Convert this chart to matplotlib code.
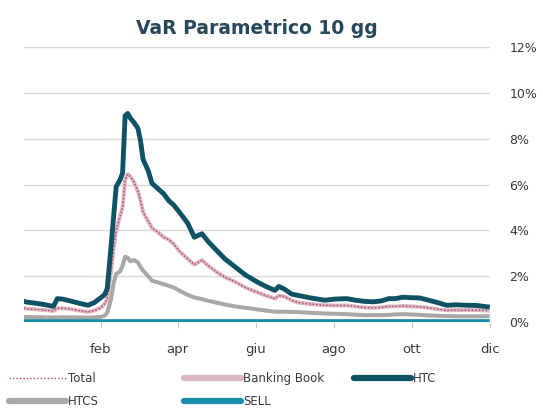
"""VaR parametrico 10 gg — recreated chart (out.png)."""
import matplotlib
matplotlib.use("Agg")
import matplotlib.pyplot as plt
import matplotlib.ticker as mticker
import pandas as pd
from matplotlib.lines import Line2D

# ---------------------------------------------------------------------------
# Data (values in %)
# ---------------------------------------------------------------------------

dates = [
    "2019-12-03", "2019-12-05", "2019-12-12", "2019-12-19", "2019-12-26",
    "2019-12-29", "2020-01-02", "2020-01-08", "2020-01-15", "2020-01-22",
    "2020-01-27", "2020-02-01", "2020-02-04", "2020-02-06", "2020-02-09",
    "2020-02-11", "2020-02-13", "2020-02-16", "2020-02-18", "2020-02-20",
    "2020-02-22", "2020-02-24", "2020-02-27", "2020-03-01", "2020-03-03",
    "2020-03-05", "2020-03-09", "2020-03-12", "2020-03-17", "2020-03-21",
    "2020-03-25", "2020-03-29", "2020-04-03", "2020-04-09", "2020-04-14",
    "2020-04-20", "2020-04-25", "2020-05-01", "2020-05-08", "2020-05-16",
    "2020-05-24", "2020-06-02", "2020-06-09", "2020-06-16", "2020-06-19",
    "2020-06-23", "2020-06-29", "2020-07-04", "2020-07-14", "2020-07-25",
    "2020-08-02", "2020-08-11", "2020-08-18", "2020-08-25", "2020-09-01",
    "2020-09-07", "2020-09-13", "2020-09-18", "2020-09-24", "2020-10-01",
    "2020-10-07", "2020-10-14", "2020-10-21", "2020-10-28", "2020-11-05",
    "2020-11-13", "2020-11-21", "2020-11-29",
]

htc = [
    0.90, 0.87, 0.82, 0.76, 0.68, 1.02, 1.00, 0.92, 0.82, 0.73,
    0.85, 1.06, 1.20, 1.45, 3.30, 4.60, 5.90, 6.20, 6.50, 9.00,
    9.10, 8.90, 8.70, 8.45, 7.90, 7.10, 6.60, 6.05, 5.80, 5.60,
    5.30, 5.10, 4.75, 4.30, 3.70, 3.85, 3.50, 3.15, 2.75, 2.40,
    2.05, 1.75, 1.55, 1.38, 1.55, 1.45, 1.22, 1.16, 1.05, 0.95,
    1.00, 1.02, 0.95, 0.90, 0.88, 0.92, 1.02, 1.02, 1.08, 1.06,
    1.05, 0.95, 0.85, 0.73, 0.75, 0.73, 0.72, 0.66,
]

total = [
    0.60, 0.58, 0.55, 0.52, 0.48, 0.60, 0.60, 0.57, 0.50, 0.44,
    0.50, 0.62, 0.80, 1.00, 2.20, 3.20, 4.00, 4.60, 5.00, 6.20,
    6.45, 6.35, 6.10, 5.70, 5.30, 4.80, 4.40, 4.10, 3.90, 3.70,
    3.60, 3.40, 3.05, 2.75, 2.50, 2.70, 2.45, 2.20, 1.95, 1.75,
    1.50, 1.30, 1.15, 1.02, 1.15, 1.12, 0.95, 0.85, 0.78, 0.73,
    0.72, 0.72, 0.68, 0.63, 0.62, 0.64, 0.68, 0.68, 0.70, 0.68,
    0.66, 0.62, 0.56, 0.51, 0.52, 0.52, 0.52, 0.50,
]

# Banking Book sits right under the Total line in the picture
banking_book = list(total)

htcs = [
    0.22, 0.22, 0.21, 0.20, 0.20, 0.20, 0.21, 0.20, 0.20, 0.19,
    0.20, 0.22, 0.28, 0.40, 1.00, 1.70, 2.10, 2.20, 2.45, 2.85,
    2.80, 2.65, 2.70, 2.60, 2.40, 2.25, 2.00, 1.80, 1.72, 1.65,
    1.58, 1.50, 1.35, 1.18, 1.07, 1.00, 0.92, 0.85, 0.76, 0.68,
    0.62, 0.55, 0.50, 0.45, 0.45, 0.45, 0.44, 0.43, 0.40, 0.37,
    0.36, 0.34, 0.32, 0.30, 0.30, 0.30, 0.31, 0.33, 0.34, 0.33,
    0.31, 0.29, 0.27, 0.26, 0.25, 0.25, 0.25, 0.25,
]

sell_dates = ["2019-12-03", "2020-11-29"]
sell = [0.03, 0.03]

tick_dates = ["2020-02-01", "2020-04-01", "2020-06-01",
              "2020-08-01", "2020-10-01", "2020-12-01"]
tick_labels = ["feb", "apr", "giu", "ago", "ott", "dic"]

# ---------------------------------------------------------------------------
# Style
# ---------------------------------------------------------------------------

HTC_C   = "#0f5266"
TOTAL_C = "#b0485a"
BB_C    = "#dcb6c6"
HTCS_C  = "#a8a8a8"
SELL_C  = "#1a8eaa"
TEXT_C  = "#3a3a3a"
GRID_C  = "#d9d9d9"


def main() -> None:
    x = pd.to_datetime(dates)
    xs = pd.to_datetime(sell_dates)

    fig = plt.figure(figsize=(5.43, 4.12), dpi=100)
    ax = fig.add_axes([24 / 543, 1 - 322 / 412, 466 / 543, 275 / 412])

    ax.plot(x, htcs, color=HTCS_C, lw=2.9, solid_joinstyle="round", zorder=3)
    ax.plot(xs, sell, color=SELL_C, lw=3.4, zorder=4)
    ax.plot(x, banking_book, color=BB_C, lw=2.8, solid_joinstyle="round", zorder=4)
    ax.plot(x, total, color=TOTAL_C, lw=1.0, ls=(0, (1, 1.5)), zorder=5)
    ax.plot(x, htc, color=HTC_C, lw=3.5, solid_joinstyle="round", zorder=6)

    ax.set_xlim(pd.Timestamp("2019-12-03"), pd.Timestamp("2020-12-01"))
    ax.set_ylim(0, 12)

    ax.yaxis.tick_right()
    ax.set_yticks(range(0, 13, 2))
    ax.yaxis.set_major_formatter(mticker.FuncFormatter(lambda v, _: f"{v:.0f}%"))
    ax.tick_params(axis="y", length=0, pad=14, labelsize=9, labelcolor=TEXT_C)
    ax.grid(axis="y", color=GRID_C, lw=1.0, zorder=0)

    ax.set_xticks(pd.to_datetime(tick_dates))
    ax.set_xticklabels(tick_labels)
    ax.tick_params(axis="x", length=4, width=0.8, color="#c8c8c8", pad=11,
                   labelsize=9.5, labelcolor=TEXT_C)

    for s in ax.spines.values():
        s.set_visible(False)

    fig.text(257 / 543, 1 - 29 / 412, "VaR Parametrico 10 gg", ha="center",
             va="center", fontsize=13.5, fontweight="bold", color="#27475a")

    # legend: three columns placed like the source
    h_total = Line2D([], [], color=TOTAL_C, lw=1.0, ls=(0, (1, 1.5)))
    h_bb    = Line2D([], [], color=BB_C, lw=4.5, solid_capstyle="round")
    h_htc   = Line2D([], [], color=HTC_C, lw=4.5, solid_capstyle="round")
    h_htcs  = Line2D([], [], color=HTCS_C, lw=4.5, solid_capstyle="round")
    h_sell  = Line2D([], [], color=SELL_C, lw=4.5, solid_capstyle="round")

    columns = [
        (9, [h_total, h_htcs], ["Total", "HTCS"]),
        (184, [h_bb, h_sell], ["Banking Book", "SELL"]),
        (354, [h_htc], ["HTC"]),
    ]
    for x0, handles, labels in columns:
        leg = fig.legend(handles, labels, loc="upper left",
                         bbox_to_anchor=(x0 / 543, 1 - 372 / 412),
                         frameon=False, fontsize=8.5, handlelength=4.8,
                         handletextpad=0.2, labelspacing=0.85, borderpad=0,
                         borderaxespad=0)
        for t in leg.get_texts():
            t.set_color(TEXT_C)

    fig.savefig("out.png", dpi=100)
    plt.close(fig)


if __name__ == "__main__":
    main()
